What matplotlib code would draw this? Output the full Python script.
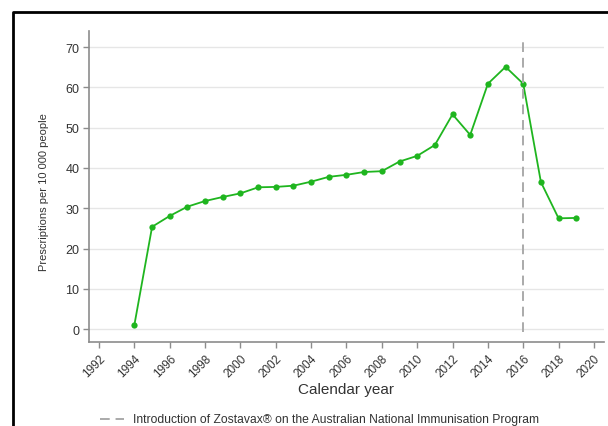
import matplotlib.pyplot as plt
from matplotlib.lines import Line2D

plt.rcParams['font.family'] = ['Liberation Sans', 'DejaVu Sans']

# Annual prescription rates
years = list(range(1994, 2020))
rates = [1.1, 25.4, 28.1, 30.4, 31.8, 32.8, 33.7, 35.2, 35.3, 35.6,
         36.6, 37.8, 38.3, 39.0, 39.2, 41.6, 43.0, 45.7, 53.3, 48.2,
         60.9, 65.1, 60.9, 36.5, 27.5, 27.6]

x_ticks = list(range(1992, 2021, 2))
y_ticks = [0, 10, 20, 30, 40, 50, 60, 70]
program_year = 2016
legend_text = "Introduction of Zostavax\u00ae on the Australian National Immunisation Program"

green = '#1fb51f'
axis_grey = '#8c8c8c'
text_grey = '#333333'

fig = plt.figure(figsize=(6.08, 4.27), dpi=100)
W, H = 608, 427
ax = fig.add_axes([89 / W, 1 - 343 / H, (604 - 89) / W, (343 - 32) / H])

for y in y_ticks:
    ax.axhline(y, color='#e6e6e6', lw=1, zorder=0)

ax.plot(years, rates, color=green, lw=1.3, marker='o', ms=4.5,
        markeredgewidth=0, zorder=3)
ax.vlines(program_year, -0.7, 72, colors='#aaaaaa', linestyles=(0, (5, 3)),
          lw=1.4, zorder=4)

ax.set_xlim(1991.43, 2020.57)
ax.set_ylim(-3.2, 74)
ax.set_xticks(x_ticks)
ax.set_xticklabels([str(t) for t in x_ticks], rotation=45, ha='right',
                   rotation_mode='anchor', fontsize=8.5, color=text_grey)
ax.set_yticks(y_ticks)
ax.set_yticklabels([str(t) for t in y_ticks], fontsize=9, color=text_grey)
ax.tick_params(axis='both', color=axis_grey, length=4, width=1, pad=3)

for side in ['top', 'right']:
    ax.spines[side].set_visible(False)
for side in ['left', 'bottom']:
    ax.spines[side].set_color(axis_grey)
    ax.spines[side].set_linewidth(1.2)

ax.set_xlabel('Calendar year', fontsize=11, color=text_grey, labelpad=2)
ax.set_ylabel('Prescriptions per 10 000 people', fontsize=8, color=text_grey)
ax.yaxis.set_label_coords(-0.078, 0.485)

# legend for the dashed marker line
fig.add_artist(Line2D([100 / W, 124 / W], [1 - 420 / H, 1 - 420 / H],
                      color='#aaaaaa', lw=1.4, linestyle=(0, (5, 3))))
fig.text(133 / W, 1 - 420 / H, legend_text, fontsize=8.75, color=text_grey,
         va='center', ha='left')

# partial outer frame
fig.add_artist(Line2D([12.5 / W, 12.5 / W, 1.0], [0.0, 1 - 12.5 / H, 1 - 12.5 / H],
                      color='black', lw=2))

fig.savefig('out.png', dpi=100)
